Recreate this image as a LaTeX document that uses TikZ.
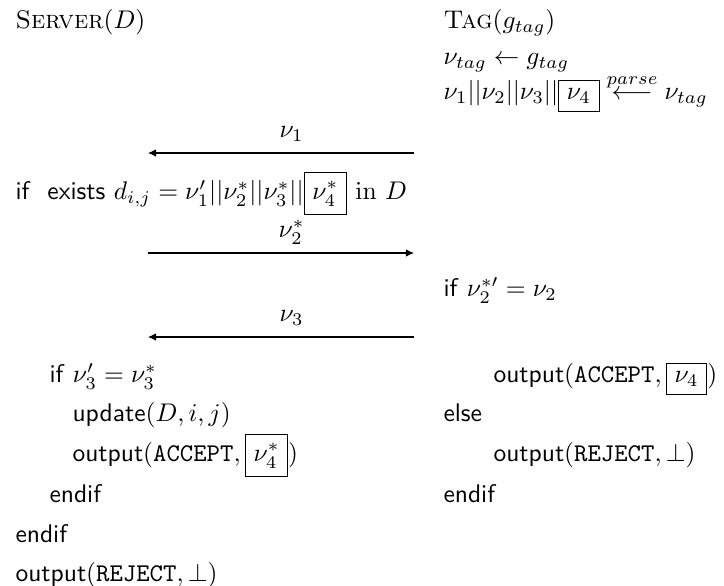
\documentclass[tikz,border=0pt]{standalone}
\usepackage{amsmath}
\usepackage{tikz}
\usetikzlibrary{arrows.meta}

\newcommand{\pkw}[1]{\textsf{#1}}

\begin{document}
\begin{tikzpicture}[
  x=0.392pt, y=-0.392pt,
  txt/.style={anchor=base west, inner sep=0pt},
  msg/.style={-{Latex[length=3.2pt,width=3pt]}, line width=0.4pt},
  lbl/.style={anchor=base, inner sep=0pt, yshift=6pt}
]
\useasboundingbox (0,0) rectangle (724,586);

% Column heads.
\node[txt] (srv) at (15,29)  {\textsc{Server}$(D)$};
\node[txt] (tag) at (443,29) {\textsc{Tag}$(g_{tag})$};

% Tag side: derive and split the tag.
\node[txt] (tdrv) at (443,65)  {$\nu_{tag} \leftarrow g_{tag}$};
\node[txt] (tspl) at (443,100) {$\nu_1||\nu_2||\nu_3||\boxed{\nu_4}\stackrel{parse}{\longleftarrow}\nu_{tag}$};

% Message end points between the two columns.
\coordinate (m1r) at (414,153);
\coordinate (m1l) at (148,153);
\coordinate (m2l) at (148,253);
\coordinate (m2r) at (414,253);
\coordinate (m3r) at (414,337);
\coordinate (m3l) at (148,337);

% Server side.
\node[txt] (sif)  at (15,200)  {\pkw{if}\ \ \pkw{exists} $d_{i,j} = \nu_1'||\nu_2^*||\nu_3^*||\boxed{\nu_4^*}\ \mathrm{in}\ D$};
\node[txt] (sif2) at (49,383)  {\pkw{if} $\nu_3' = \nu_3^*$};
\node[txt] (supd) at (72,422)  {\pkw{update}$(D,i,j)$};
\node[txt] (sacc) at (72,462)  {\pkw{output}$(\texttt{ACCEPT},\boxed{\nu_4^*})$};
\node[txt] (send2) at (49,503) {\pkw{endif}};
\node[txt] (send) at (15,543)  {\pkw{endif}};
\node[txt] (srej) at (15,582)  {\pkw{output}$(\texttt{REJECT},\bot)$};

% Tag side checks.
\node[txt] (tif)  at (443,297) {\pkw{if} $\nu_2^{*\prime} = \nu_2$};
\node[txt] (tacc) at (493,383) {\pkw{output}$(\texttt{ACCEPT},\boxed{\nu_4})$};
\node[txt] (telse) at (443,422) {\pkw{else}};
\node[txt] (trej) at (493,462) {\pkw{output}$(\texttt{REJECT},\bot)$};
\node[txt] (tend) at (443,503) {\pkw{endif}};

% Messages.
\draw[msg] (m1r) -- node[lbl, pos=.46] (l1) {$\nu_1$} (m1l);
\draw[msg] (m2l) -- node[lbl, pos=.54] (l2) {$\nu_2^*$} (m2r);
\draw[msg] (m3r) -- node[lbl, pos=.46] (l3) {$\nu_3$} (m3l);
\end{tikzpicture}
\end{document}
